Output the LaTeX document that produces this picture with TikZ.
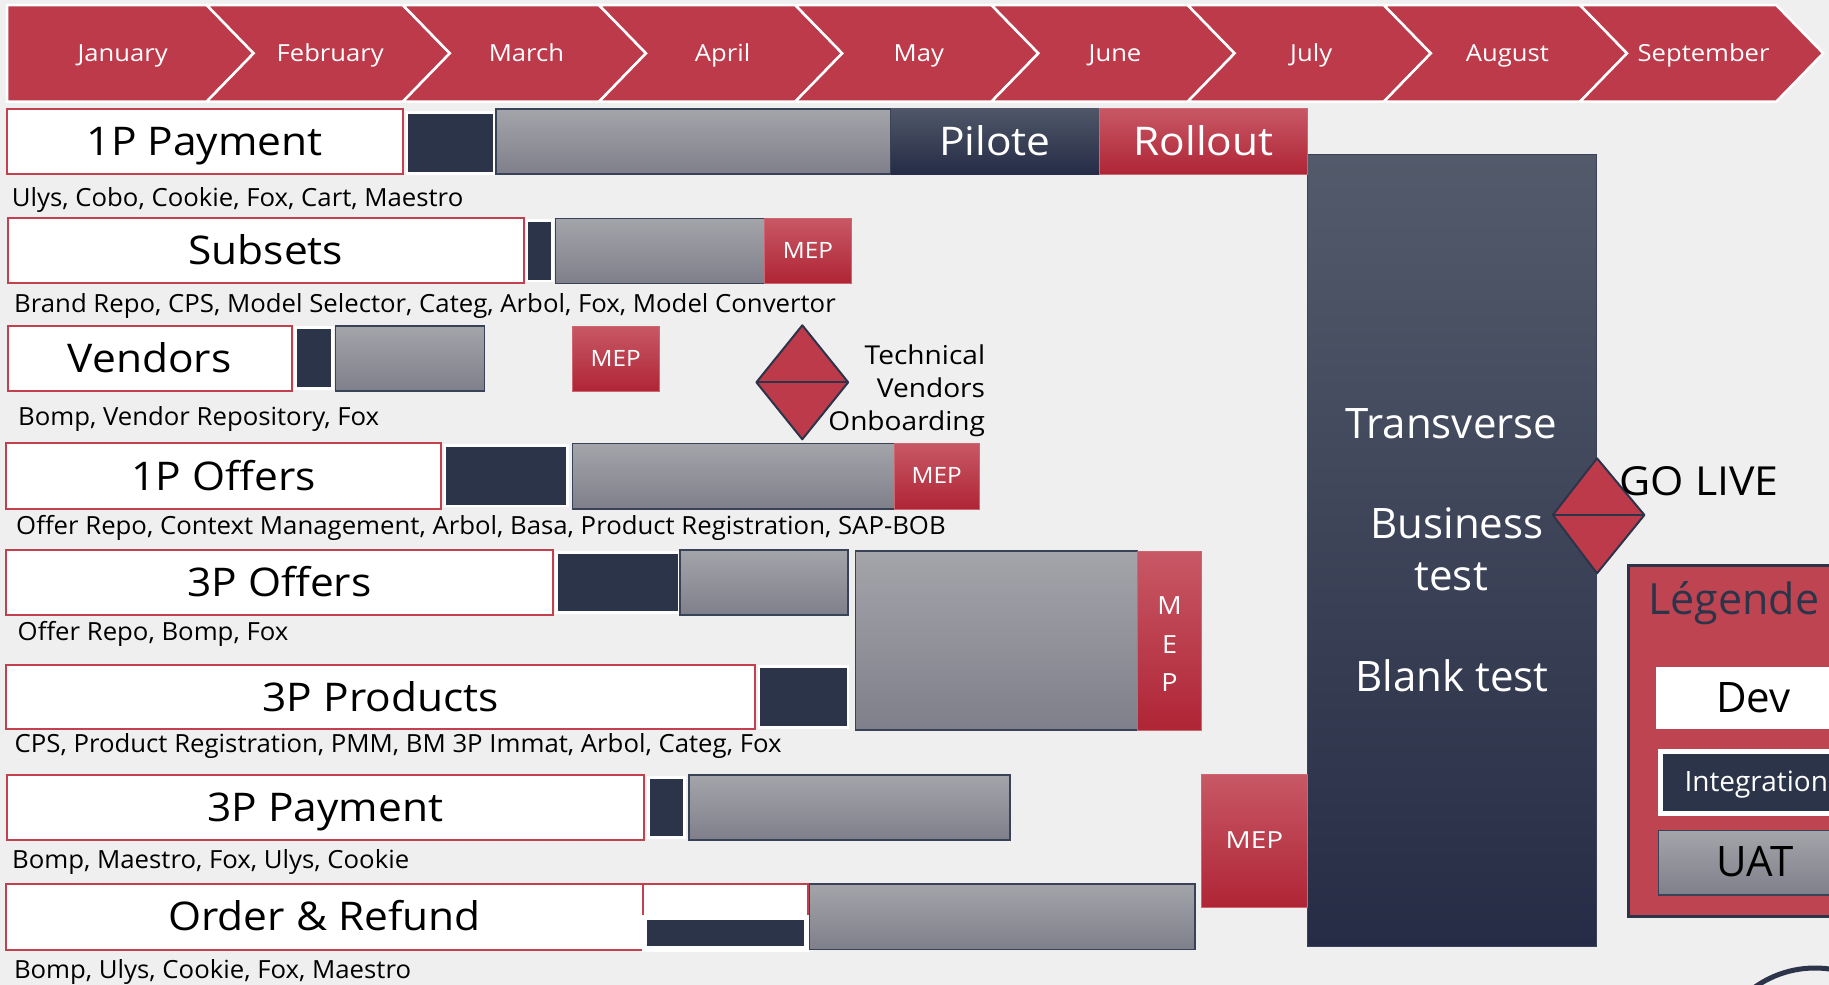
\documentclass[tikz,border=0pt]{standalone}
\usepackage{fontspec}
\setmainfont{Open Sans}
\definecolor{bg}{HTML}{EFEFEF}
\definecolor{red1}{HTML}{BD3A4B}
\definecolor{boxred}{HTML}{C3404F}
\definecolor{navy}{HTML}{2C344A}
\definecolor{navyline}{HTML}{3A4257}
\definecolor{greyT}{HTML}{A4A5AA}
\definecolor{greyB}{HTML}{7E7F8A}
\definecolor{redT}{HTML}{C85865}
\definecolor{redB}{HTML}{AF2536}
\definecolor{redline}{HTML}{CC6670}
\definecolor{navyT}{HTML}{4F5768}
\definecolor{navyB}{HTML}{252C46}
\definecolor{transT}{HTML}{535B6B}
\definecolor{transB}{HTML}{262C45}
\definecolor{legred}{HTML}{BE4452}
\newcommand\myfs[1]{\fontsize{#1}{#1}\selectfont}
\begin{document}
\begin{tikzpicture}[x=1pt,y=-1pt,
  lblbox/.style={fill=white,draw=boxred,line width=2pt},
  navyblk/.style={fill=navy,draw=white,line width=2.5pt},
  greybar/.style={top color=greyT,bottom color=greyB,draw=navyline,line width=1.5pt},
  redbox/.style={top color=redT,bottom color=redB,draw=redline,line width=1pt},
  navybox/.style={top color=navyT,bottom color=navyB},
  diam/.style={fill=red1,draw=navy,line width=2pt,line join=round},
  tx/.style={inner sep=0pt,anchor=base},
  txw/.style={inner sep=0pt,anchor=base west},
  txe/.style={inner sep=0pt,anchor=base east},
  mon/.style={tx,text=white,font=\myfs{23.5},xscale=1.09},
  lbl/.style={tx,text=black,font=\myfs{39.5},xscale=1.075},
  sub/.style={txw,text=black,font=\myfs{25},xscale=1.03},
  mep/.style={tx,text=white,font=\myfs{22.5},xscale=1.08},
  big/.style={tx,text=white,font=\myfs{42}},
]
\useasboundingbox (0,0) rectangle (1829,985);
\clip (0,0) rectangle (1829,985);
\fill[bg] (0,0) rectangle (1829,985);

% month chevrons
\foreach \m [count=\i from 0] in {January,February,March,April,May,June,July,August,September}{
  \pgfmathsetmacro\R{206.6+196.2*\i}
  \pgfmathsetmacro\L{206.6+196.2*(\i-1)}
  \ifnum\i=0
    \draw[fill=red1,draw=white,line width=2.5pt,line join=miter]
      (7,5) -- (\R,5) -- (\R+47,53.3) -- (\R,101.7) -- (7,101.7) -- cycle;
    \node[mon] (m\i) at (122.7,61.7) {\m};
  \else
    \draw[fill=red1,draw=white,line width=2.5pt,line join=miter]
      (\L,5) -- (\R,5) -- (\R+47,53.3) -- (\R,101.7) -- (\L,101.7) -- (\L+47,53.3) -- cycle;
    \pgfmathsetmacro\C{(\L+\R)/2+25.5}
    \node[mon] (m\i) at (\C,61.7) {\m};
  \fi
}

% transverse bar
\draw[top color=transT,bottom color=transB,draw=navyline,line width=1pt] (1307.5,154) rectangle (1596,946);
\node[big] (trans) at (1451.3,438.3) {Transverse};
\node[big] (bus) at (1457,538.3) {Business};
\node[big] (bust) at (1451.2,590) {test};
\node[big] (blank) at (1452.2,691.7) {Blank test};

% row 1
\draw[lblbox] (7,109) rectangle (402.6,174);
\draw[navyblk] (407,112.7) rectangle (494.5,173.3);
\draw[greybar] (496,109) rectangle (891,174);
\fill[navybox] (891,108) rectangle (1099.6,174);
\draw[redbox] (1099.6,108) rectangle (1307.6,174);
\node[lbl] (r1) at (204.8,155.4) {1P Payment};
\node[lbl,text=white] (pil) at (995,155.4) {Pilote};
\node[lbl,text=white] (roll) at (1203.6,155.4) {Rollout};
\node[sub] (s1) at (11.7,206) {Ulys, Cobo, Cookie, Fox, Cart, Maestro};

% row 2
\draw[lblbox] (7.7,218.3) rectangle (524,283.3);
\draw[navyblk] (527,220.7) rectangle (552.3,281);
\draw[greybar] (555.5,218.3) rectangle (764.7,283.3);
\draw[redbox] (764.7,218.3) rectangle (851.4,283.3);
\node[lbl] (r2) at (265.8,264.7) {Subsets};
\node[mep] (mep2) at (808,258.3) {MEP};
\node[sub] (s2) at (14,312.7) {Brand Repo, CPS, Model Selector, Categ, Arbol, Fox, Model Convertor};

% row 3
\draw[lblbox] (7.7,326) rectangle (291.5,391);
\draw[navyblk] (295.3,327.7) rectangle (332.3,388.3);
\draw[greybar] (335.5,326) rectangle (484.7,391);
\draw[redbox] (572,326) rectangle (659.4,391.7);
\node[lbl] (r3) at (149.6,372.4) {Vendors};
\node[mep] (mep3) at (615.7,366.3) {MEP};
\draw[diam] (802.3,325.3) -- (848.2,382.3) -- (802.3,439.3) -- (756.4,382.3) -- cycle;
\draw[navy,line width=2pt] (756.4,382.3) -- (848.2,382.3);
\node[txe,font=\myfs{26},xscale=1.08] (tv1) at (985.3,364) {Technical};
\node[txe,font=\myfs{26},xscale=1.08] (tv2) at (985.3,397.3) {Vendors};
\node[txe,font=\myfs{26},xscale=1.08] (tv3) at (985.3,430) {Onboarding};
\node[sub] (s3) at (17.9,425) {Bomp, Vendor Repository, Fox};

% row 4
\draw[lblbox] (6.4,443.3) rectangle (440.9,509);
\draw[navyblk] (444.8,445.7) rectangle (567.6,506);
\draw[greybar] (572.4,443.3) rectangle (894.5,509);
\draw[redbox] (894.5,443.3) rectangle (979.8,509);
\node[lbl] (r4) at (223.6,490) {1P Offers};
\node[mep] (mep4) at (936.7,483.7) {MEP};
\node[sub] (s4) at (16,534) {Offer Repo, Context Management, Arbol, Basa, Product Registration, SAP-BOB};

% row 5
\draw[lblbox] (6.4,550) rectangle (552.5,615);
\draw[navyblk] (556.4,552.7) rectangle (679.2,612.7);
\draw[greybar] (680,550) rectangle (848.2,615);
\draw[greybar] (855.4,551) rectangle (1137.6,730);
\draw[redbox] (1137.6,551) rectangle (1201.4,730);
\node[lbl] (r5) at (279.4,596.4) {3P Offers};
\node[mep,font=\myfs{25}] (mepM) at (1169.5,614) {M};
\node[mep,font=\myfs{25}] (mepE) at (1169.5,653) {E};
\node[mep,font=\myfs{25}] (mepP) at (1169.5,691) {P};
\node[sub] (s5) at (17.5,640.7) {Offer Repo, Bomp, Fox};

% row 6
\draw[lblbox] (6.4,665) rectangle (755,729.3);
\draw[navyblk] (759,666.7) rectangle (848.2,727.3);
\node[lbl] (r6) at (380.7,711) {3P Products};
\node[sub] (s6) at (14.5,752.7) {CPS, Product Registration, PMM, BM 3P Immat, Arbol, Categ, Fox};

% row 7
\draw[lblbox] (6.9,775) rectangle (644,840);
\draw[navyblk] (648.3,777.7) rectangle (684.5,837.7);
\draw[greybar] (688.8,775) rectangle (1010,840);
\draw[redbox] (1201.9,774) rectangle (1307,907.3);
\node[lbl] (r7) at (325.4,821.4) {3P Payment};
\node[mep,font=\myfs{23.5},xscale=1.1] (mep7) at (1254.4,848.2) {MEP};
\node[sub] (s7) at (12,868.3) {Bomp, Maestro, Fox, Ulys, Cookie};

% row 8
\draw[lblbox] (6,884) rectangle (643,950);
\draw[lblbox] (643,884) rectangle (807.6,950);
\fill[white] (641.5,915) rectangle (809,951.5);
\draw[navyblk] (645.7,918.3) rectangle (805,947.3);
\draw[greybar] (809.3,884) rectangle (1195,949.3);
\node[lbl] (r8) at (324.5,930.9) {Order \& Refund};
\node[sub] (s8) at (13.8,978) {Bomp, Ulys, Cookie, Fox, Maestro};

% go live
\draw[diam] (1597,458.3) -- (1644.4,515) -- (1597,573.3) -- (1552.8,515) -- cycle;
\draw[navy,line width=2pt] (1552.8,515) -- (1644.4,515);
\node[txw,font=\myfs{40},xscale=1.07] (golive) at (1619.3,495) {GO LIVE};

% legend
\draw[fill=legred,draw=navy,line width=2.5pt] (1628.3,565.7) rectangle (1845,916.7);
\node[txw,text=navy,font=\myfs{43}] (leg) at (1648,614) {Légende\kern8pt:};
\fill[white] (1656,667.3) rectangle (1845,729.3);
\node[tx,font=\myfs{42}] (dev) at (1753.3,712.7) {Dev};
\fill[white] (1658.3,749) rectangle (1845,815.7);
\fill[navy] (1663,753.5) rectangle (1845,811.2);
\node[txw,text=white,font=\myfs{28}] (integ) at (1684.3,791.7) {Integration};
\draw[greybar] (1658.3,830.7) rectangle (1845,895);
\node[tx,font=\myfs{42}] (uat) at (1755,876.7) {UAT};

% bottom-right arc
\draw[navy,line width=5pt] (1815,1072) circle (104);
\end{tikzpicture}
\end{document}
